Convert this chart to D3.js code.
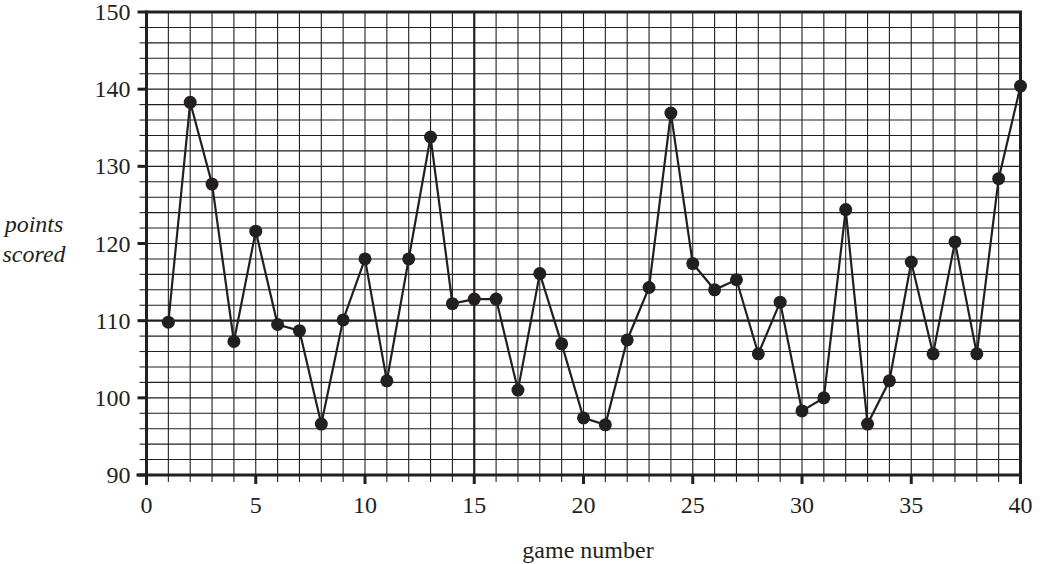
<!DOCTYPE html>
<html>
<head>
<meta charset="utf-8">
<script src="https://cdn.jsdelivr.net/npm/d3@7"></script>
<style>
  body { margin: 0; background: #fff; }
</style>
</head>
<body>
<div id="chart"></div>
<script>
// game numbers and points scored
const games = d3.range(1, 41);
const points = [109.8, 138.3, 127.7, 107.3, 121.6, 109.5, 108.7, 96.6, 110.1, 118,
                102.2, 118, 133.8, 112.2, 112.8, 112.8, 101, 116.1, 107, 97.4,
                96.5, 107.5, 114.3, 136.9, 117.4, 114, 115.3, 105.7, 112.4, 98.3,
                100, 124.4, 96.6, 102.2, 117.6, 105.7, 120.2, 105.7, 128.4, 140.4];
const xTickLabels = [0, 5, 10, 15, 20, 25, 30, 35, 40];
const yTickLabels = [90, 100, 110, 120, 130, 140, 150];

const width = 1050, height = 564;
const ink = "#231f20";
const serif = "'Liberation Serif', 'Times New Roman', serif";

const svg = d3.select("#chart").append("svg")
  .attr("width", width)
  .attr("height", height)
  .attr("font-family", serif);

const x = d3.scaleLinear().domain([0, 40]).range([146.5, 1020.5]);
const y = d3.scaleLinear().domain([90, 150]).range([475, 12]);

// grid
const grid = svg.append("g");
grid.selectAll(".vx")
  .data(d3.range(1, 40))
  .enter().append("line")
  .attr("x1", d => x(d)).attr("x2", d => x(d))
  .attr("y1", y(90)).attr("y2", y(150))
  .attr("stroke", ink)
  .attr("stroke-width", d => d === 15 ? 2.2 : 1.1);
grid.selectAll(".hy")
  .data(d3.range(92, 150, 2))
  .enter().append("line")
  .attr("x1", x(0)).attr("x2", x(40))
  .attr("y1", d => y(d)).attr("y2", d => y(d))
  .attr("stroke", ink)
  .attr("stroke-width", d => d === 110 ? 2.2 : 1.1);

// frame (top and right)
svg.append("path")
  .attr("d", `M${x(0)},${y(150)}H${x(40)}V${y(90)}`)
  .attr("fill", "none").attr("stroke", ink).attr("stroke-width", 3);

// x axis
const xAxis = svg.append("g").attr("transform", `translate(0,${y(90)})`);
xAxis.selectAll(".tk")
  .data(d3.range(0, 41))
  .enter().append("line")
  .attr("x1", d => x(d)).attr("x2", d => x(d))
  .attr("y1", 0).attr("y2", d => d % 5 === 0 ? 9 : 7)
  .attr("stroke", ink)
  .attr("stroke-width", d => d % 5 === 0 ? 3 : 1.1);
xAxis.append("line")
  .attr("x1", x(0) - 10).attr("x2", x(40))
  .attr("stroke", ink).attr("stroke-width", 3);
xAxis.selectAll(".lb")
  .data(xTickLabels)
  .enter().append("text")
  .attr("x", d => x(d)).attr("y", 38)
  .attr("text-anchor", "middle")
  .attr("font-size", 24)
  .attr("fill", ink)
  .text(d => d);

// y axis
const yAxis = svg.append("g").attr("transform", `translate(${x(0)},0)`);
yAxis.selectAll(".tk")
  .data(d3.range(90, 151, 2))
  .enter().append("line")
  .attr("y1", d => y(d)).attr("y2", d => y(d))
  .attr("x1", 0).attr("x2", d => d % 10 === 0 ? -9 : -7)
  .attr("stroke", ink)
  .attr("stroke-width", d => d % 10 === 0 ? 3 : 1.1);
yAxis.append("line")
  .attr("y1", y(90) + 10).attr("y2", y(150) - 1.5)
  .attr("stroke", ink).attr("stroke-width", 3);
yAxis.selectAll(".lb")
  .data(yTickLabels)
  .enter().append("text")
  .attr("x", -16).attr("y", d => y(d) + 8)
  .attr("text-anchor", "end")
  .attr("font-size", 24)
  .attr("fill", ink)
  .text(d => d);

// axis titles
svg.append("text")
  .attr("x", 588).attr("y", 558)
  .attr("text-anchor", "middle").attr("font-size", 24).attr("fill", ink)
  .text("game number");
svg.append("text")
  .attr("x", 34).attr("y", 232)
  .attr("text-anchor", "middle").attr("font-size", 24).attr("font-style", "italic").attr("fill", ink)
  .text("points");
svg.append("text")
  .attr("x", 34).attr("y", 262)
  .attr("text-anchor", "middle").attr("font-size", 24).attr("font-style", "italic").attr("fill", ink)
  .text("scored");

// series
const line = d3.line()
  .x((d, i) => x(games[i]))
  .y(d => y(d));

svg.append("path")
  .datum(points)
  .attr("d", line)
  .attr("fill", "none")
  .attr("stroke", ink)
  .attr("stroke-width", 2.2);

svg.selectAll(".dot")
  .data(points)
  .enter().append("circle")
  .attr("cx", (d, i) => x(games[i]))
  .attr("cy", d => y(d))
  .attr("r", 6.5)
  .attr("fill", ink);
</script>
</body>
</html>
